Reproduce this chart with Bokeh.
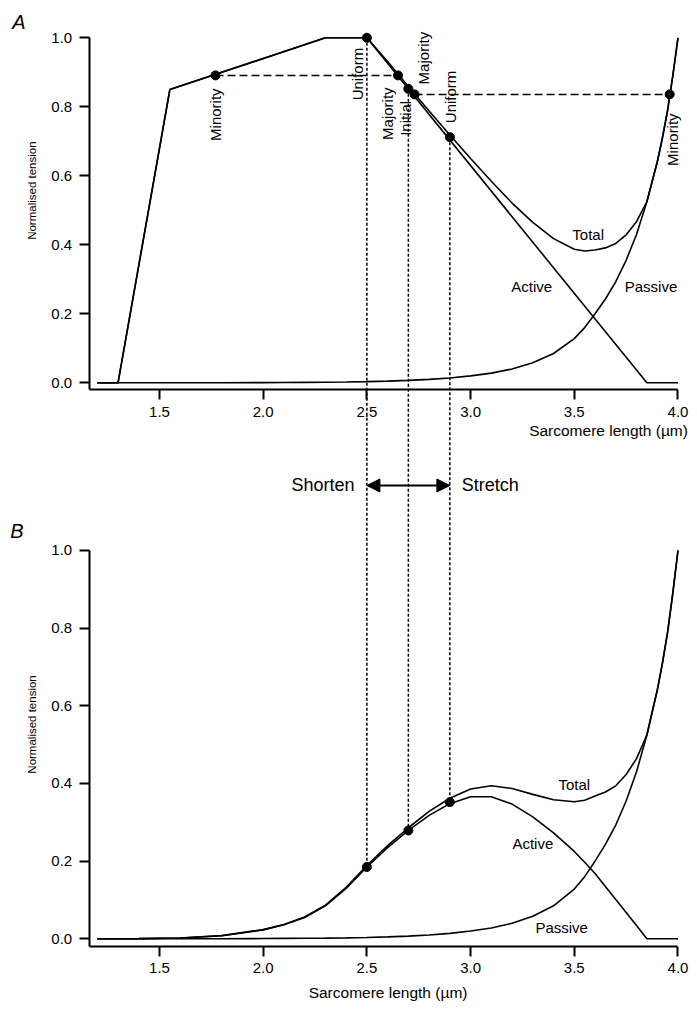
import math
from bokeh.plotting import figure
from bokeh.models import (Range1d, LinearAxis, FixedTicker, PrintfTickFormatter,
                          Label, Arrow, NormalHead)
from bokeh.embed import file_html
from bokeh.resources import INLINE

# ---------------- data ----------------
x_ticks = [1.5, 2.0, 2.5, 3.0, 3.5, 4.0]
y_ticks = [0.0, 0.2, 0.4, 0.6, 0.8, 1.0]

# Panel A: active (piecewise linear) and total
active_a_len = [1.2, 1.3, 1.55, 2.3, 2.5, 3.85, 4.0]
active_a = [0, 0, 0.85, 1.0, 1.0, 0, 0]

total_a_len = [1.2, 1.3, 1.55, 2.3, 2.5, 2.6, 2.7, 2.8, 2.9, 3.0, 3.1, 3.2, 3.3, 3.4,
               3.5, 3.55, 3.6, 3.65, 3.7, 3.75, 3.8, 3.85, 3.9, 3.925, 3.95, 3.975, 4.0]
total_a = [0, 0, 0.85, 1.0, 1.0, 0.931, 0.859, 0.788, 0.718, 0.65, 0.584, 0.521, 0.465, 0.418,
           0.387, 0.382, 0.385, 0.391, 0.404, 0.429, 0.467, 0.525, 0.64, 0.71, 0.79, 0.89, 1.0]

# common length grid for passive and panel B curves
grid_len = [1.2, 1.4, 1.6, 1.8, 2.0, 2.1, 2.2, 2.3, 2.4, 2.5, 2.6, 2.7, 2.8, 2.9, 3.0, 3.1,
            3.2, 3.3, 3.4, 3.5, 3.55, 3.6, 3.65, 3.7, 3.75, 3.8, 3.85, 3.9, 3.925, 3.95, 3.975, 4.0]
passive = [0, 0, 0, 0.0003, 0.0006, 0.001, 0.0013, 0.0018, 0.0025, 0.0035, 0.005, 0.007, 0.01,
           0.014, 0.02, 0.028, 0.04, 0.058, 0.085, 0.128, 0.16, 0.2, 0.243, 0.293, 0.355, 0.43,
           0.525, 0.64, 0.71, 0.79, 0.89, 1.0]
active_b = [0, 0.0005, 0.002, 0.008, 0.023, 0.036, 0.055, 0.085, 0.13, 0.185, 0.235, 0.279,
            0.318, 0.348, 0.366, 0.366, 0.347, 0.314, 0.273, 0.225, 0.197, 0.168, 0.135, 0.101,
            0.068, 0.034, 0, 0, 0, 0, 0, 0]
total_b = [0, 0.0005, 0.002, 0.0083, 0.0236, 0.037, 0.0563, 0.0868, 0.1325, 0.1885, 0.24, 0.286,
           0.328, 0.362, 0.386, 0.394, 0.387, 0.372, 0.358, 0.353, 0.357, 0.368, 0.378, 0.394,
           0.423, 0.464, 0.525, 0.64, 0.71, 0.79, 0.89, 1.0]

# marked points
a_marker_len = [1.77, 2.5, 2.65, 2.7, 2.73, 2.9, 3.96]
a_marker_tension = [0.891, 1.0, 0.891, 0.852, 0.836, 0.712, 0.836]
a_marker_names = ["Minority", "Uniform", "Majority", "Initial", "Majority", "Uniform", "Minority"]
b_marker_len = [2.5, 2.7, 2.9]
b_marker_tension = [0.185, 0.279, 0.352]

FONT = "Liberation Sans"

# ---------------- figure ----------------
# the frame fills the whole canvas; both panels share it through two y ranges
XS, XE = 0.7334, 4.0555
B_START, B_END = -0.1666, 2.4164
A_START, A_END = -1.7991, 1.1081
X_AXIS_LOC = 1.1611   # x position of both y axes
A_AXIS = -0.0203      # y (panel A units) of panel A x axis
B_AXIS = -0.0198      # y (panel B units) of panel B x axis

p = figure(width=689, height=1003, x_range=Range1d(XS, XE), y_range=Range1d(B_START, B_END),
           output_backend="svg", toolbar_location=None, x_axis_type=None, y_axis_type=None,
           min_border=0)
p.extra_y_ranges = {"A": Range1d(A_START, A_END)}
p.outline_line_color = None
p.background_fill_color = "white"
p.border_fill_color = "white"


def style(ax, ticks):
    ax.ticker = FixedTicker(ticks=ticks)
    ax.formatter = PrintfTickFormatter(format="%.1f")
    ax.axis_line_width = 2
    ax.axis_line_color = "black"
    ax.major_tick_line_width = 2
    ax.major_tick_line_color = "black"
    ax.major_tick_out = 10
    ax.major_tick_in = 0
    ax.minor_tick_line_color = None
    ax.major_label_text_font = FONT
    ax.major_label_text_font_size = "15px"
    ax.major_label_text_color = "black"
    ax.major_label_standoff = 7


xB = LinearAxis(fixed_location=B_AXIS, bounds=(X_AXIS_LOC, 4.0))
style(xB, x_ticks)
p.add_layout(xB, "below")
xA = LinearAxis(y_range_name="A", fixed_location=A_AXIS, bounds=(X_AXIS_LOC, 4.0))
style(xA, x_ticks)
p.add_layout(xA, "below")

yA = LinearAxis(y_range_name="A", fixed_location=X_AXIS_LOC, bounds=(A_AXIS, 1.0))
style(yA, y_ticks)
p.add_layout(yA, "left")
yB = LinearAxis(fixed_location=X_AXIS_LOC, bounds=(B_AXIS, 1.0))
style(yB, y_ticks)
p.add_layout(yB, "left")


def a_to_b(v):
    return B_START + (v - A_START) * (B_END - B_START) / (A_END - A_START)


LW = 1.6
# ---- panel A curves
p.line(grid_len, passive, y_range_name="A", line_color="black", line_width=LW)
p.line(active_a_len, active_a, y_range_name="A", line_color="black", line_width=LW)
p.line(total_a_len, total_a, y_range_name="A", line_color="black", line_width=LW)

# dashed horizontal links
p.segment(x0=[a_marker_len[0], a_marker_len[4]], y0=[a_marker_tension[0], a_marker_tension[4]],
          x1=[a_marker_len[2], a_marker_len[6]], y1=[a_marker_tension[2], a_marker_tension[6]],
          y_range_name="A", line_color="black", line_width=1.5, line_dash="8 4")

# ---- panel B curves
p.line(grid_len, passive, line_color="black", line_width=LW)
p.line(grid_len, active_b, line_color="black", line_width=LW)
p.line(grid_len, total_b, line_color="black", line_width=LW)

# dotted verticals linking A to B
link_idx = [1, 3, 5]
p.segment(x0=[a_marker_len[i] for i in link_idx],
          y0=[a_to_b(a_marker_tension[i]) for i in link_idx],
          x1=b_marker_len, y1=b_marker_tension,
          line_color="black", line_width=1.5, line_dash="3 2")

# markers
p.scatter(a_marker_len, a_marker_tension, y_range_name="A", size=9, color="black")
p.scatter(b_marker_len, b_marker_tension, size=9, color="black")

# marker labels (rotated)
lab_style = [("right", 0, -13), ("right", -9, -10), ("right", -11, -12), ("right", -3, -12),
             ("left", 9, 10), ("left", 1, 14), ("right", 3, -19)]
for name, xv, yv, (al, dx, dy) in zip(a_marker_names, a_marker_len, a_marker_tension, lab_style):
    p.add_layout(Label(x=xv, y=yv, y_range_name="A", text=name, angle=math.pi / 2,
                       text_align=al, text_baseline="middle", x_offset=dx, y_offset=dy,
                       text_font=FONT, text_font_size="15px", text_color="black"))

# curve names
for t, xv, yv, rng in [("Total", 3.567, 0.430, "A"), ("Active", 3.295, 0.279, "A"),
                       ("Passive", 3.870, 0.279, "A"), ("Total", 3.500, 0.397, "default"),
                       ("Active", 3.300, 0.245, "default"), ("Passive", 3.439, 0.028, "default")]:
    p.add_layout(Label(x=xv, y=yv, y_range_name=rng, text=t, text_align="center",
                       text_baseline="middle", text_font=FONT, text_font_size="15px",
                       text_color="black"))

# axis titles
for yv, rng in [(0.557, "A"), (0.552, "default")]:
    p.add_layout(Label(x=0.886, y=yv, y_range_name=rng, text="Normalised tension",
                       angle=math.pi / 2, text_align="center", text_baseline="middle",
                       text_font=FONT, text_font_size="11.5px", text_color="black"))
p.add_layout(Label(x=4.048, y=-0.138, y_range_name="A", text="Sarcomere length (µm)",
                   text_align="right", text_baseline="middle", text_font=FONT,
                   text_font_size="15.5px", text_color="black"))
p.add_layout(Label(x=2.602, y=-0.1375, text="Sarcomere length (µm)",
                   text_align="center", text_baseline="middle", text_font=FONT,
                   text_font_size="15.5px", text_color="black"))

# panel letters
p.add_layout(Label(x=0.822, y=1.046, y_range_name="A", text="A", text_align="center",
                   text_baseline="middle", text_font=FONT, text_font_style="italic",
                   text_font_size="20px", text_color="black"))
p.add_layout(Label(x=0.813, y=1.0515, text="B", text_align="center",
                   text_baseline="middle", text_font=FONT, text_font_style="italic",
                   text_font_size="20px", text_color="black"))

# shorten / stretch arrow
SHIFT_Y = 1.1674
p.add_layout(Arrow(start=NormalHead(size=13, fill_color="black", line_color="black"),
                   end=NormalHead(size=13, fill_color="black", line_color="black"),
                   x_start=2.5, y_start=SHIFT_Y, x_end=2.9, y_end=SHIFT_Y,
                   line_width=2, line_color="black"))
p.add_layout(Label(x=2.440, y=SHIFT_Y, text="Shorten", text_align="right",
                   text_baseline="middle", text_font=FONT, text_font_size="18px",
                   text_color="black"))
p.add_layout(Label(x=2.957, y=SHIFT_Y, text="Stretch", text_align="left",
                   text_baseline="middle", text_font=FONT, text_font_size="18px",
                   text_color="black"))

open("out.html", "w").write(file_html(p, INLINE))
